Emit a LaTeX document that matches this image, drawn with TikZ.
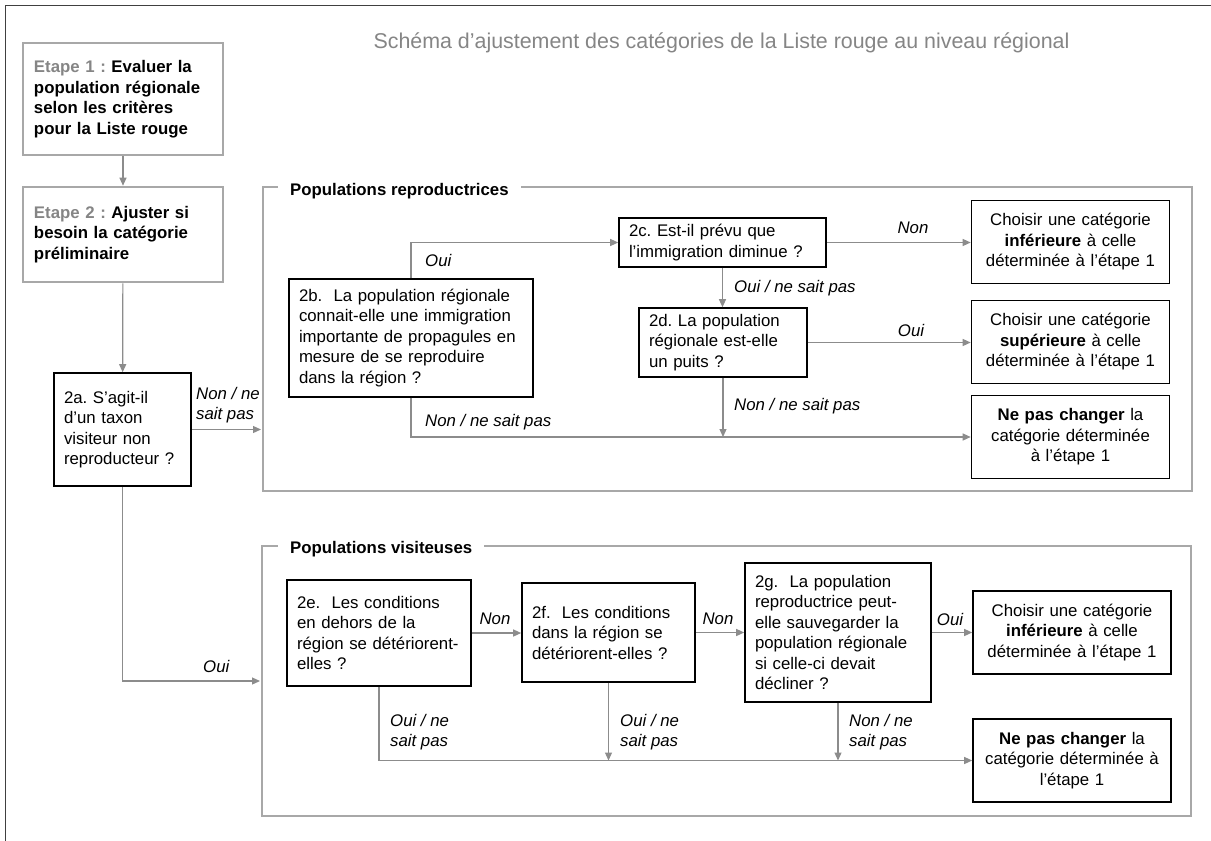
\documentclass[tikz,border=0pt]{standalone}
\usepackage{fontspec}
\setmainfont{Liberation Sans}
\usetikzlibrary{arrows.meta}
\frenchspacing

\definecolor{linegrey}{HTML}{8C8C8C}
\definecolor{framegrey}{HTML}{A8A8A8}
\definecolor{titlegrey}{HTML}{858585}
\newcommand{\boxfont}{\fontsize{16.8}{20.5}\selectfont}

\tikzset{
    qbox/.style={draw=black, line width=1.6pt, align=left, inner xsep=10pt, inner ysep=0pt},
    rbox/.style={draw=black, line width=1.6pt, align=center, inner xsep=4pt, inner ysep=0pt,
        minimum width=198, minimum height=83, text width=190pt},
    etbox/.style={draw=framegrey, line width=2.6pt, align=left, inner xsep=11pt, inner ysep=0pt,
        font=\bfseries\boxfont, minimum width=200, text width=178pt},
    frame/.style={draw=framegrey, line width=2.6pt},
    ftitle/.style={fill=white, inner xsep=12pt, inner ysep=2pt, anchor=west, font=\bfseries\boxfont},
    link/.style={draw=linegrey, line width=1.2pt},
    arr/.style={link, -{Triangle[length=8pt,width=7pt]}},
    lab/.style={inner sep=0pt, font=\itshape\boxfont, align=left},
}

\begin{document}
\begin{tikzpicture}[x=1pt, y=-1pt, font=\boxfont]
            \useasboundingbox (0,0) rectangle (1211,841);
            \draw[black!75, line width=1pt] (5,841) -- (5,5) -- (1211,5);

            \node[text=titlegrey, font=\fontsize{21.4}{25}\selectfont] (title) at (721.5,43)
                {Schéma d’ajustement des catégories de la Liste rouge au niveau régional};

            \node[etbox, minimum height=112] (et1) at (123,99)
                {\textcolor{titlegrey}{Etape 1 :} Evaluer la\\population régionale\\selon les critères\\pour la Liste rouge};
            \node[etbox, minimum height=95] (et2) at (123,234.5)
                {\textcolor{titlegrey}{Etape 2 :} Ajuster si\\besoin la catégorie\\préliminaire};
            \node[qbox, minimum width=137, minimum height=113, text width=117pt] (q2a) at (122.5,429.5)
                {2a. S'agit-il\\d'un taxon\\visiteur non\\reproducteur ?};

            \draw[frame] (263,187) rectangle (1192,491);
            \node[ftitle] (reptitle) at (278,191) {Populations reproductrices};
            \draw[frame] (262,546) rectangle (1191,816);
            \node[ftitle] (vistitle) at (278,549) {Populations visiteuses};

            \node[qbox, minimum width=244, minimum height=118, text width=224pt] (q2b) at (411,338)
                {2b.\ \ La population régionale\\connait-elle une immigration\\importante de propagules en\\mesure de se reproduire\\dans la région ?};
            \node[qbox, minimum width=207, minimum height=49, text width=187pt] (q2c) at (722.5,242.5)
                {2c. Est-il prévu que\\l'immigration diminue ?};
            \node[qbox, minimum width=168, minimum height=69, text width=148pt] (q2d) at (723,342.5)
                {2d. La population\\régionale est-elle\\un puits ?};
            \node[rbox] (r1) at (1070.5,242) {Choisir une catégorie\\\textbf{inférieure} à celle\\déterminée à l’étape 1};
            \node[rbox] (r2) at (1070.5,342) {Choisir une catégorie\\\textbf{supérieure} à celle\\déterminée à l’étape 1};
            \node[rbox] (r3) at (1070.5,437) {\textbf{Ne pas changer} la\\catégorie déterminée\\à l’étape 1};

            \node[qbox, minimum width=184, minimum height=106, text width=164pt] (q2e) at (379,633)
                {2e.\ \ Les conditions\\en dehors de la\\région se détériorent-\\elles ?};
            \node[qbox, minimum width=173, minimum height=99, text width=153pt] (q2f) at (608.5,632.5)
                {2f.\ \ Les conditions\\dans la région se\\détériorent-elles ?};
            \node[qbox, minimum width=186, minimum height=139, text width=166pt] (q2g) at (838,632.5)
                {2g.\ \ La population\\reproductrice peut-\\elle sauvegarder la\\population régionale\\si celle-ci devait\\décliner ?};
            \node[rbox] (r4) at (1072,632.5) {Choisir une catégorie\\\textbf{inférieure} à celle\\déterminée à l’étape 1};
            \node[rbox] (r5) at (1072,760.5) {\textbf{Ne pas changer} la\\catégorie déterminée à\\l’étape 1};

            \coordinate (repin) at (261,429.5);
            \coordinate (visin) at (260,681);
            \coordinate (j1) at (q2d.south |- r3.west);
            \coordinate (j2) at (q2f.south |- r5.west);
            \coordinate (j3) at (q2g.south |- r5.west);

            \draw[arr] (et1) -- (et2);
            \draw[arr] (et2) -- (q2a);
            \draw[arr] (q2a) -- (repin);
            \draw[arr] (q2a.south) |- (visin);
            \draw[arr] (q2b.north) |- (q2c.west);
            \draw[arr] (q2c.east) -- (q2c.east -| r1.west);
            \draw[arr] (q2c.south) -- (q2c.south |- q2d.north);
            \draw[arr] (q2d.east) -- (q2d.east -| r2.west);
            \draw[arr] (q2d) -- (j1);
            \draw[arr] (q2b.south) |- (r3.west);
            \draw[arr] (q2e.east) -- (q2e.east -| q2f.west);
            \draw[arr] (q2f.east) -- (q2f.east -| q2g.west);
            \draw[arr] (q2g.east) -- (q2g.east -| r4.west);
            \draw[arr] (q2e.south) |- (r5.west);
            \draw[arr] (q2f) -- (j2);
            \draw[arr] (q2g) -- (j3);

            \node[lab, anchor=west] (l2a) at (196,405) {Non / ne\\sait pas};
            \node[lab, anchor=west] (l2aoui) at (203,666) {Oui};
            \node[lab, anchor=west] (l2boui) at (425,260) {Oui};
            \node[lab, anchor=west] (l2bnon) at (425,422) {Non / ne sait pas};
            \node[lab] (l2cnon) at (913,228) {Non};
            \node[lab, anchor=west] (l2coui) at (734,288) {Oui / ne sait pas};
            \node[lab] (l2doui) at (911,330) {Oui};
            \node[lab, anchor=west] (l2dnon) at (734,406) {Non / ne sait pas};
            \node[lab] (l2enon) at (495,619) {Non};
            \node[lab] (l2fnon) at (718,619) {Non};
            \node[lab] (l2goui) at (950,619) {Oui};
            \node[lab, anchor=west] (l2eoui) at (390,732) {Oui / ne\\sait pas};
            \node[lab, anchor=west] (l2foui) at (620,732) {Oui / ne\\sait pas};
            \node[lab, anchor=west] (l2gnon) at (849,732) {Non / ne\\sait pas};
        \end{tikzpicture}
\end{document}
